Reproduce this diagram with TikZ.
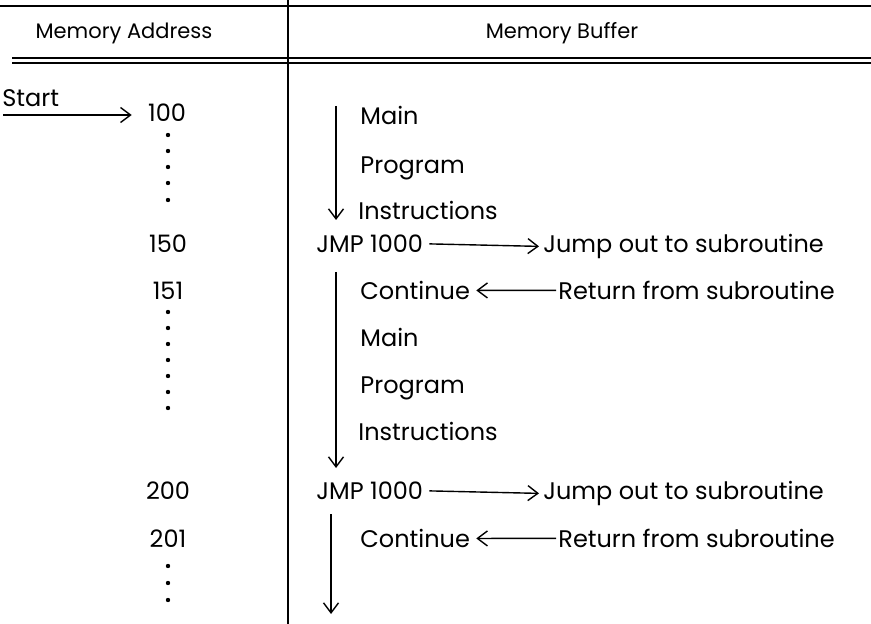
\documentclass[tikz,border=0pt]{standalone}
\usepackage{fontspec}
\setmainfont{Poppins}
\usetikzlibrary{positioning,arrows.meta}

\begin{document}
\begin{tikzpicture}[x=0.5pt, y=-0.5pt,
        txt/.style={inner sep=0pt, font=\fontsize{12}{14}\selectfont},
        head/.style={inner sep=0pt, font=\fontsize{10.5}{12}\selectfont},
        flow/.style={-{Straight Barb[length=5pt,width=7.5pt]}, line width=0.7pt}]
        \useasboundingbox (0,0) rectangle (871,624);

        % table rules
        \draw[line width=0.8pt] (0,6) -- (871,6);
        \draw[line width=0.7pt] (12,58) -- (871,58);
        \draw[line width=0.7pt] (12,63) -- (871,63);
        \draw[line width=0.6pt] (288,0) -- (288,624);

        \node (HA) [head, anchor=mid] at (124,33) {Memory Address};
        \node (HB) [head, anchor=mid] at (562,33) {Memory Buffer};

        % addresses
        \node (S) [txt, anchor=mid west] at (2,101) {Start};
        \node (A100) [txt, anchor=mid] at (167,116) {100};
        \node (A150) [txt, anchor=mid] at (168,247) {150};
        \node (A151) [txt, anchor=mid] at (168,294) {151};
        \node (A200) [txt, anchor=mid] at (168,494) {200};
        \node (A201) [txt, anchor=mid] at (168,542) {201};

        \foreach \y in {135,151,167,183,200}
            \fill (168,\y) circle (2.2);
        \foreach \y in {312,328,344,360,376,392,408}
            \fill (168,\y) circle (2.2);
        \foreach \y in {566,583,600}
            \fill (168,\y) circle (2.2);

        \coordinate (in) at (3,115);
        \draw[flow] (in) -- ([xshift=-8]A100.west |- in);

        % memory buffer
        \node (M1) [txt, anchor=mid west] at (360,119) {Main};
        \node (P1) [txt, anchor=mid west] at (360,168) {Program};
        \node (I1) [txt, anchor=mid west] at (358,214) {Instructions};
        \node (J1) [txt, anchor=mid west] at (316,247) {JMP 1000};
        \node (O1) [txt, anchor=mid west] at (543,247) {Jump out to subroutine};
        \node (C1) [txt, anchor=mid west] at (360,294) {Continue};
        \node (R1) [txt, anchor=mid west] at (558,294) {Return from subroutine};
        \node (M2) [txt, anchor=mid west] at (360,341) {Main};
        \node (P2) [txt, anchor=mid west] at (360,388) {Program};
        \node (I2) [txt, anchor=mid west] at (358,435) {Instructions};
        \node (J2) [txt, anchor=mid west] at (316,494) {JMP 1000};
        \node (O2) [txt, anchor=mid west] at (543,494) {Jump out to subroutine};
        \node (C2) [txt, anchor=mid west] at (360,542) {Continue};
        \node (R2) [txt, anchor=mid west] at (558,542) {Return from subroutine};

        % program flow
        \coordinate (T1) at (336,106);
        \coordinate (E1) at (336,220);
        \coordinate (T2) at (336,272);
        \coordinate (E2) at (336,468);
        \coordinate (T3) at (331,514);
        \coordinate (E3) at (331,614);
        \draw[flow] (T1) -- (E1);
        \draw[flow] (T2) -- (E2);
        \draw[flow] (T3) -- (E3);

        % jumps and returns
        \draw[flow, shorten <=3pt, shorten >=2pt] (J1.east) -- (O1.west);
        \draw[flow, shorten <=1pt, shorten >=3pt] (R1.west) -- (C1.east);
        \draw[flow, shorten <=3pt, shorten >=2pt] (J2.east) -- (O2.west);
        \draw[flow, shorten <=1pt, shorten >=3pt] (R2.west) -- (C2.east);
    \end{tikzpicture}
\end{document}
